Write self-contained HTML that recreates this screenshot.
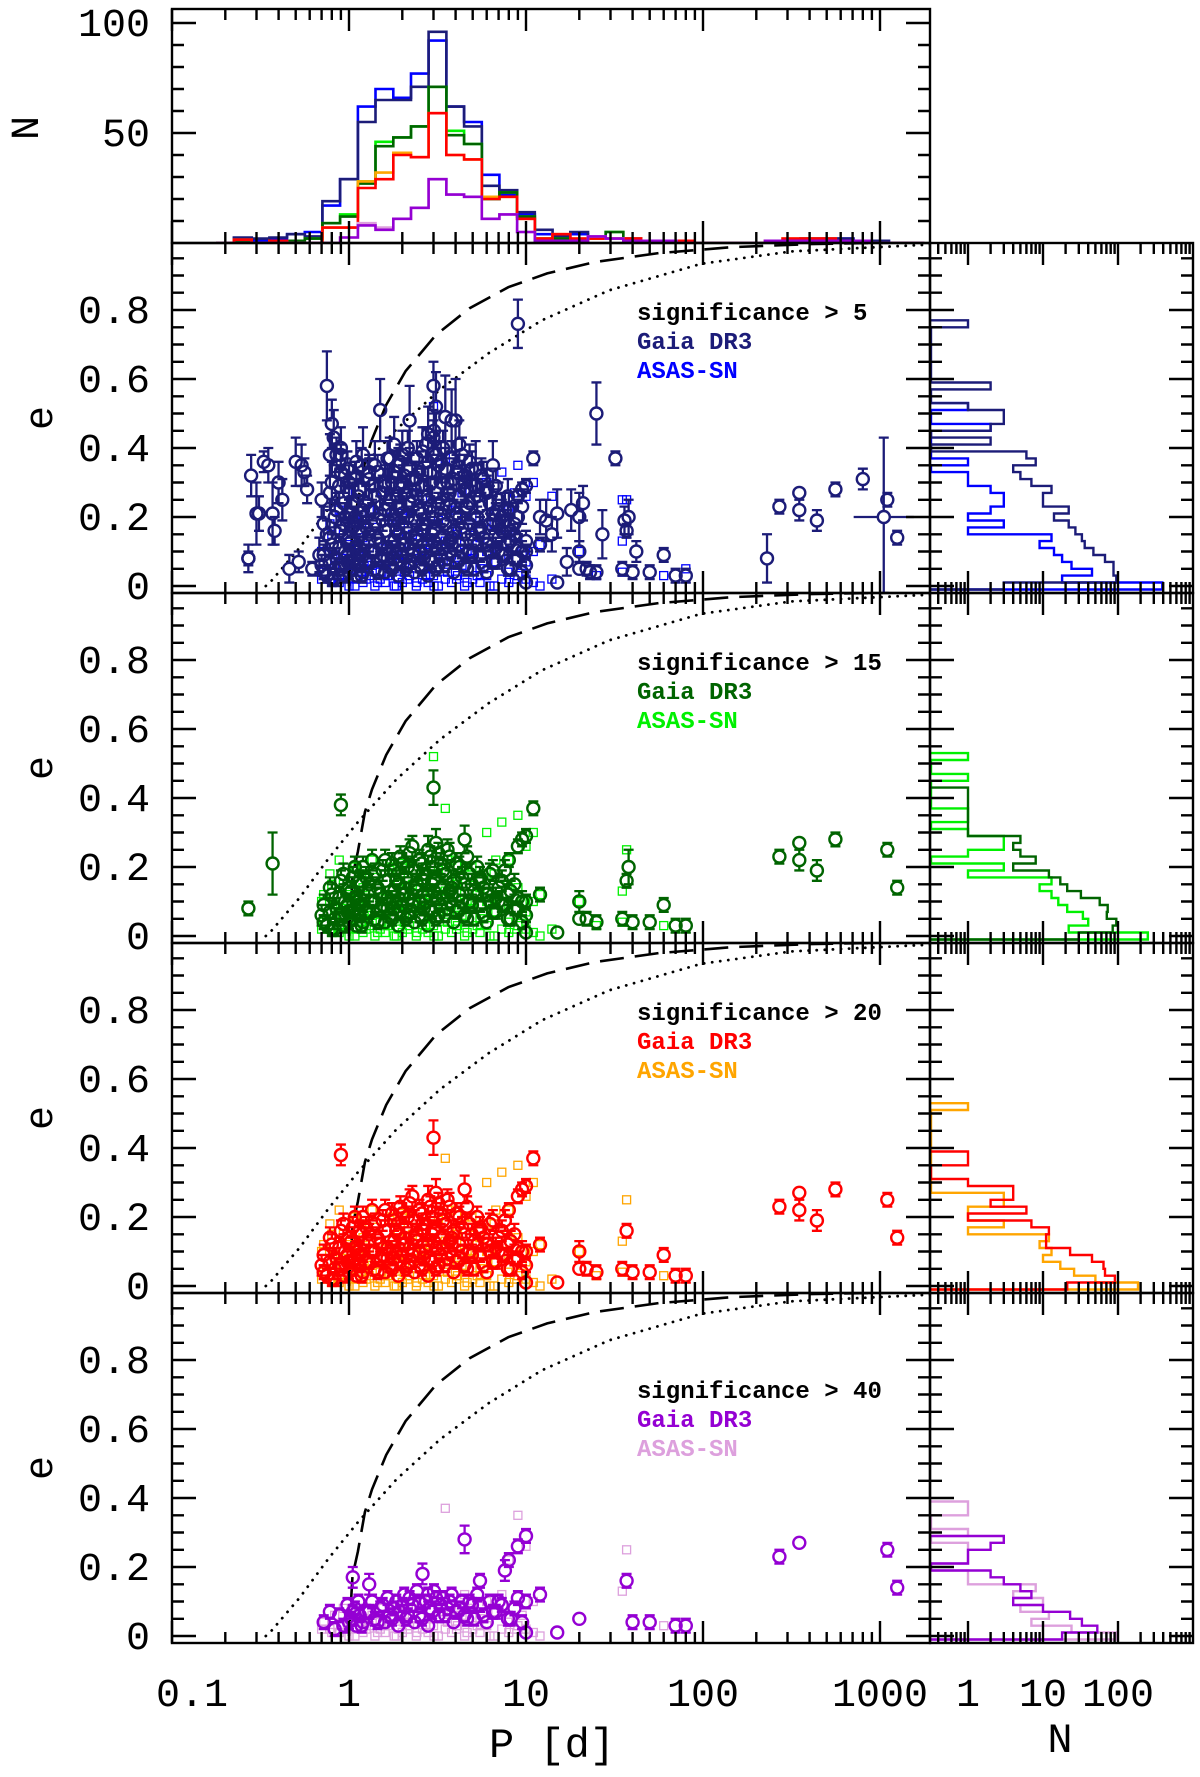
<!DOCTYPE html>
<html><head><meta charset="utf-8"><title>Period-eccentricity</title>
<style>
html,body{margin:0;padding:0;background:#fff;}
svg{display:block;}
text{font-family:"Liberation Mono","DejaVu Sans Mono",monospace;}
</style></head>
<body>
<svg id="chart" xmlns="http://www.w3.org/2000/svg" width="1200" height="1777" viewBox="0 0 1200 1777">
<rect x="0" y="0" width="1200" height="1777" fill="#fff"/>
</svg>
<script>
// ---------- DATA ----------
const panelThresholds = [5, 15, 20, 40];
const gaiaColors = ['#1c1c78', '#006400', '#ff0000', '#9400d3'];
const asasColors = ['#0000ff', '#00f000', '#ffa500', '#dda0dd'];
const legendTitles = ['significance > 5', 'significance > 15', 'significance > 20', 'significance > 40'];

const xTickLabels = ['0.1', '1', '10', '100', '1000'];
const xTickValues = [0.1, 1, 10, 100, 1000];
const eTickValues = [0, 0.2, 0.4, 0.6, 0.8];
const eTickLabels = ['0', '0.2', '0.4', '0.6', '0.8'];
const nTopTickValues = [50, 100];
const nTopTickLabels = ['50', '100'];
const nRightTickValues = [1, 10, 100];
const nRightTickLabels = ['1', '10', '100'];

const topBinLogP = [-0.7,-0.6,-0.5,-0.4,-0.3,-0.2,-0.1,0.0,0.1,0.2,0.3,0.4,0.5,0.6,0.7,0.8,0.9,1.0,1.1,1.2,1.3,1.4,1.5,1.6,1.7,1.8,1.9,2.0,2.1,2.2,2.3,2.4,2.5,2.6,2.7,2.8,2.9,3.0,3.1,3.2];
const topNavy   = [0,2.5,2,2.5,4,3,19,29,55,65,65,71,96,62,53,26,24,14,6,3,5,2,2,2,1,1,1,0,0,0,0,1,1,2,2,2,1,1,0,0];
const topBlue   = [0,2,1,2,4,5,17,29,62,70,66,77,92,62,55,31,22,13,4,3,4,2,2,2,1,1,1,0,0,0,0,1,1,2,2,2,1,1,0,0];
const topDGreen = [0,1,0,1,1,2,9,12,27,44,48,53,71,49,45,20,23,12,2,2,1,2,5,1,1,1,1,0,0,0,0,1,1,1,1,1,1,0,0,0];
const topLGreen = [0,1,0,1,1,2,9,13,28,46,48,53,71,51,45,20,23,12,2,2,1,2,5,1,1,1,1,0,0,0,0,1,1,1,1,1,1,0,0,0];
const topRed    = [0,1.5,0,1,0,0,7,7,25,29,40,39,59,40,38,20,21,11,2,4,2,2,2,2,1,1,1,0,0,0,0,1,2,2,2,1,1,0,0,0];
const topOrange = [0,1.5,0,1,0,0,7,7,28,32,41,39,59,40,38,21,21,11,2,4,2,2,2,2,1,1,1,0,0,0,0,1,2,2,2,1,1,0,0,0];
const topPurple = [0,0,0,0,0,0,0,2.5,8,6,11,16,29,22,21,11,13,5,1,1,1,3,2,1,1,1,0,0,0,0,0,1,1,1,1,1,1,0,0,0];
const topViolet = [0,0,0,0,0,0,0,2.5,9,7,11,16,29,22,21,11,13,5,1,1,1,3,2,1,1,1,0,0,0,0,0,1,1,1,1,1,1,0,0,0];

const rightGaia = [
  [3,95,87,87,67,47,36,33,27,22,14,22,10,10,13,7,5,4,8,6,0,2,0,2,3,3,1,0,0,2,0,0,0,0,0,0,0,0,1],
  [30,85,95,71,73,57,32,21,17,12,4,8,5,4,5,1,1,1,1,1,1,1],
  [21,91,67,64,45,23,11,11,12,7,1,6,2,4,4,1,0,0,1,1],
  [18,53,33,23,10,4,7,5,3,2,0,1,1,2,3]
];
const rightAsas = [
  [390,18,45,24,18,14,9,13,1,3,1,2,3,3,2,1,1,0,1,0,0,0,0,2,0,0,1],
  [250,22,40,34,21,16,13,9,13,1,3,0,1,3,3,1,0,1,1,0,0,0,0,1,0,0,1],
  [185,50,26,17,10,13,9,12,1,3,1,1,3,3,0,0,0,0,0,0,0,0,0,0,0,0,1],
  [95,24,7,12,5,10,4,8,1,1,0,1,1,1,0,1,0,0,1,1]
];

const dashLogP = [0,0.02,0.05,0.09,0.13,0.21,0.32,0.49,0.68,0.9,1.12,1.39,1.75,2.16,2.6,3.3];
const dashE    = [0,0.174,0.245,0.359,0.425,0.525,0.623,0.727,0.805,0.866,0.906,0.939,0.965,0.982,0.991,0.997];
const dotLogP  = [-0.47,-0.44,-0.28,-0.115,0.05,0.27,0.515,0.79,1.09,1.47,1.99,2.5,3.3];
const dotE     = [0,0.014,0.11,0.225,0.33,0.455,0.57,0.675,0.77,0.857,0.934,0.97,0.99];

// Gaia DR3 orbits: [P (d), e, sigma_e, significance, xerr(dex, optional)]
const gaiaRows = [
 [0.27,0.08,0.04,8],[0.28,0.32,0.06,7],[0.3,0.21,0.09,6],[0.31,0.21,0.05,9],[0.33,0.36,0.03,8],[0.35,0.35,0.05,7],
 [0.38,0.16,0.04,9],[0.4,0.3,0.06,7],[0.42,0.25,0.06,6],[0.46,0.05,0.04,8],[0.5,0.36,0.07,6],[0.52,0.07,0.03,7],
 [0.54,0.35,0.06,9],[0.56,0.33,0.04,8],[0.58,0.28,0.04,9],[0.62,0.05,0.02,10],[0.68,0.09,0.05,8],[0.75,0.58,0.1,6],
 [0.78,0.38,0.06,8],[0.8,0.47,0.07,7],[0.82,0.43,0.08,7],[0.85,0.38,0.05,9],[0.9,0.4,0.06,10],[0.95,0.32,0.05,11],
 [1.0,0.27,0.04,8],[1.1,0.36,0.06,7],[1.2,0.38,0.08,6],[1.3,0.33,0.05,9],[1.4,0.35,0.07,8],[1.5,0.51,0.09,7],
 [1.6,0.3,0.05,9],[1.7,0.37,0.06,10],[1.8,0.41,0.08,6],[1.9,0.35,0.05,8],[2.0,0.38,0.07,9],[2.2,0.48,0.1,6],
 [2.4,0.31,0.05,12],[2.6,0.39,0.07,7],[2.8,0.44,0.08,8],[3.0,0.58,0.07,9],[3.1,0.52,0.1,6],[3.3,0.36,0.06,9],
 [3.5,0.49,0.12,6],[3.8,0.48,0.09,7],[4.0,0.48,0.12,5.5],[4.2,0.41,0.07,8],[4.5,0.32,0.06,9],[4.8,0.36,0.05,11],
 [5.2,0.34,0.08,7],[5.6,0.32,0.05,9],[6.0,0.28,0.06,8],[6.5,0.35,0.07,8],[7.0,0.25,0.05,10],[8.0,0.22,0.05,11],
 [9.0,0.76,0.07,6],[12,0.2,0.05,9],[13,0.19,0.06,8],[14,0.15,0.05,9],[15,0.21,0.07,8],
 [17,0.07,0.04,9],[18,0.22,0.06,8],[20,0.2,0.07,9],[21,0.24,0.05,7],[23,0.04,0.02,12],[25,0.5,0.09,6],[27,0.15,0.07,7],
 [32,0.37,0.02,12],[36,0.19,0.04,9],[42,0.1,0.03,12],[230,0.08,0.07,6],[800,0.31,0.03,9],[1050,0.2,0.23,6,0.17],
 [0.27,0.08,0.02,20],[0.37,0.21,0.09,18],[0.9,0.38,0.03,25],[3.0,0.43,0.05,22],[9.5,0.28,0.02,33],[11,0.37,0.02,30],
 [270,0.23,0.02,60],[350,0.27,0.015,60],[350,0.22,0.03,30],[440,0.19,0.03,25],[560,0.28,0.02,30],
 [1100,0.25,0.02,100],[1250,0.14,0.02,100],
 [20,0.1,0.03,25],[22,0.05,0.02,30],[25,0.04,0.02,25],[35,0.05,0.02,28],[37,0.16,0.02,45],[38,0.2,0.05,18],
 [40,0.04,0.02,45],[50,0.04,0.02,45],[60,0.09,0.02,30],[70,0.03,0.02,45],[80,0.03,0.02,45],[15,0.01,0.01,45],
 [20,0.05,0.01,45],[10,0.01,0.01,45],[12,0.12,0.02,42],[8,0.22,0.02,45],[9,0.26,0.02,45],[10,0.29,0.02,50],
 [4.5,0.28,0.04,45],[1.05,0.17,0.03,45],[1.3,0.15,0.03,45],[2.6,0.18,0.03,45],
 [0.7,0.25,0.05,8],[0.7,0.06,0.03,25],[0.75,0.15,0.04,8],[0.75,0.03,0.02,25],[0.8,0.3,0.06,8],[0.8,0.12,0.03,25],[0.8,0.02,0.02,25],
 [0.85,0.22,0.05,8],[0.85,0.08,0.03,25],[0.9,0.33,0.06,8],[0.9,0.16,0.03,25],[0.9,0.05,0.02,25],[0.95,0.2,0.04,8],[0.95,0.1,0.02,25],
 [1.0,0.3,0.05,8],[1.0,0.14,0.03,25],[1.0,0.04,0.02,45],[1.05,0.24,0.05,8],[1.05,0.07,0.02,45],
 [1.1,0.19,0.04,8],[1.1,0.11,0.02,25],[1.1,0.03,0.01,45],[1.15,0.28,0.05,8],[1.15,0.16,0.03,25],[1.15,0.06,0.02,45],
 [1.2,0.22,0.04,8],[1.2,0.2,0.03,25],[1.2,0.09,0.02,25],[1.2,0.04,0.01,45],[1.3,0.31,0.06,8],[1.3,0.13,0.03,25],[1.3,0.07,0.02,45],
 [1.4,0.26,0.05,8],[1.4,0.18,0.03,25],[1.4,0.05,0.02,45],[1.4,0.1,0.02,25],[1.5,0.21,0.05,8],[1.5,0.12,0.02,25],[1.5,0.08,0.02,45],
 [1.6,0.29,0.05,8],[1.6,0.16,0.03,25],[1.6,0.04,0.01,45],[1.6,0.22,0.03,25],[1.7,0.25,0.05,8],[1.7,0.1,0.02,25],[1.7,0.06,0.02,45],
 [1.8,0.33,0.06,8],[1.8,0.19,0.03,25],[1.8,0.08,0.02,45],[1.8,0.13,0.02,25],[1.9,0.23,0.05,8],[1.9,0.15,0.03,25],[1.9,0.03,0.01,45],
 [2.0,0.3,0.05,8],[2.0,0.21,0.03,25],[2.0,0.09,0.02,45],[2.0,0.12,0.02,25],[2.1,0.27,0.05,8],[2.1,0.17,0.03,25],[2.1,0.05,0.02,45],
 [2.2,0.34,0.06,8],[2.2,0.24,0.04,25],[2.2,0.11,0.02,45],[2.2,0.07,0.02,25],[2.35,0.28,0.05,8],[2.35,0.19,0.03,25],[2.35,0.04,0.01,45],[2.35,0.14,0.02,25],
 [2.5,0.33,0.06,8],[2.5,0.22,0.03,25],[2.5,0.1,0.02,45],[2.5,0.06,0.02,45],[2.65,0.26,0.05,8],[2.65,0.16,0.03,25],[2.65,0.08,0.02,25],
 [2.8,0.36,0.07,8],[2.8,0.25,0.04,25],[2.8,0.12,0.02,45],[2.8,0.03,0.01,45],[2.95,0.3,0.06,8],[2.95,0.2,0.03,25],[2.95,0.07,0.02,45],[2.95,0.15,0.03,25],
 [3.1,0.38,0.07,8],[3.1,0.27,0.04,25],[3.1,0.11,0.02,45],[3.1,0.05,0.02,25],[3.3,0.3,0.05,8],[3.3,0.21,0.03,25],[3.3,0.09,0.02,45],[3.3,0.14,0.03,25],
 [3.5,0.34,0.06,8],[3.5,0.18,0.03,25],[3.5,0.06,0.02,45],[3.7,0.27,0.05,8],[3.7,0.23,0.04,25],[3.7,0.1,0.02,45],[3.7,0.13,0.02,25],
 [3.9,0.31,0.06,8],[3.9,0.16,0.03,25],[3.9,0.04,0.01,45],[4.2,0.26,0.05,8],[4.2,0.2,0.03,25],[4.2,0.08,0.02,45],[4.2,0.12,0.02,25],
 [4.5,0.3,0.05,8],[4.5,0.15,0.03,25],[4.5,0.06,0.02,45],[4.8,0.24,0.05,8],[4.8,0.18,0.03,25],[4.8,0.1,0.02,45],
 [5.1,0.29,0.06,8],[5.1,0.13,0.02,25],[5.1,0.05,0.02,45],[5.5,0.23,0.05,8],[5.5,0.17,0.03,25],[5.5,0.09,0.02,45],[5.5,0.16,0.02,45],
 [6.0,0.27,0.05,8],[6.0,0.12,0.02,25],[6.0,0.04,0.01,45],[6.5,0.21,0.05,8],[6.5,0.19,0.03,25],[6.5,0.07,0.02,45],
 [7.0,0.18,0.04,8],[7.0,0.14,0.03,25],[7.0,0.1,0.02,45],[7.6,0.22,0.05,8],[7.6,0.09,0.02,25],[7.6,0.19,0.03,45],
 [8.2,0.16,0.04,8],[8.2,0.13,0.03,25],[8.2,0.05,0.02,45],[9.0,0.2,0.05,8],[9.0,0.08,0.02,25],[9.0,0.11,0.02,45],
 [10,0.13,0.03,8],[10,0.06,0.02,25],[10,0.1,0.02,45],
 [0.72,0.18,0.05,8],[0.72,0.09,0.03,25],[0.72,0.04,0.02,45],[0.78,0.27,0.05,8],[0.78,0.14,0.03,25],[0.78,0.07,0.02,45],
 [0.83,0.2,0.05,8],[0.83,0.05,0.03,25],[0.83,0.02,0.02,45],[0.88,0.29,0.05,8],[0.88,0.11,0.03,25],[0.88,0.06,0.02,45],
 [0.93,0.24,0.05,8],[0.93,0.18,0.03,25],[0.93,0.03,0.02,45],[0.98,0.34,0.05,8],[0.98,0.07,0.03,25],[0.98,0.09,0.02,45],
 [1.03,0.21,0.05,8],[1.03,0.13,0.03,25],[1.03,0.05,0.02,45],[1.08,0.31,0.05,8],[1.08,0.2,0.03,25],[1.08,0.08,0.02,45],
 [1.13,0.26,0.05,8],[1.13,0.09,0.03,25],[1.13,0.1,0.02,45],[1.18,0.35,0.05,8],[1.18,0.15,0.03,25],[1.18,0.03,0.02,45],
 [1.25,0.24,0.05,8],[1.25,0.17,0.03,25],[1.25,0.07,0.02,45],[1.35,0.29,0.05,8],[1.35,0.22,0.03,25],[1.35,0.1,0.02,45],
 [1.45,0.33,0.05,8],[1.45,0.14,0.03,25],[1.45,0.04,0.02,45],[1.55,0.27,0.05,8],[1.55,0.19,0.03,25],[1.55,0.09,0.02,45],
 [1.65,0.37,0.05,8],[1.65,0.08,0.03,25],[1.65,0.11,0.02,45],[1.75,0.3,0.05,8],[1.75,0.21,0.03,25],[1.75,0.05,0.02,45],
 [1.85,0.26,0.05,8],[1.85,0.16,0.03,25],[1.85,0.1,0.02,45],[1.95,0.36,0.05,8],[1.95,0.23,0.03,25],[1.95,0.07,0.02,45],
 [2.05,0.32,0.05,8],[2.05,0.14,0.03,25],[2.05,0.12,0.02,45],[2.15,0.4,0.05,8],[2.15,0.2,0.03,25],[2.15,0.06,0.02,45],
 [2.28,0.31,0.05,8],[2.28,0.26,0.03,25],[2.28,0.09,0.02,45],[2.42,0.37,0.05,8],[2.42,0.15,0.03,25],[2.42,0.13,0.02,45],
 [2.58,0.29,0.05,8],[2.58,0.21,0.03,25],[2.58,0.05,0.02,45],[2.72,0.41,0.05,8],[2.72,0.18,0.03,25],[2.72,0.1,0.02,45],
 [2.88,0.33,0.05,8],[2.88,0.23,0.03,25],[2.88,0.08,0.02,45],[3.02,0.45,0.05,8],[3.02,0.16,0.03,25],[3.02,0.13,0.02,45],
 [3.2,0.35,0.05,8],[3.2,0.24,0.03,25],[3.2,0.06,0.02,45],[3.4,0.4,0.05,8],[3.4,0.19,0.03,25],[3.4,0.11,0.02,45],
 [3.6,0.3,0.05,8],[3.6,0.25,0.03,25],[3.6,0.08,0.02,45],[3.8,0.37,0.05,8],[3.8,0.14,0.03,25],[3.8,0.12,0.02,45],
 [4.05,0.33,0.05,8],[4.05,0.21,0.03,25],[4.05,0.07,0.02,45],[4.35,0.38,0.05,8],[4.35,0.17,0.03,25],[4.35,0.1,0.02,45],
 [4.65,0.28,0.05,8],[4.65,0.23,0.03,25],[4.65,0.05,0.02,45],[4.95,0.34,0.05,8],[4.95,0.15,0.03,25],[4.95,0.09,0.02,45],
 [5.3,0.26,0.05,8],[5.3,0.2,0.03,25],[5.3,0.12,0.02,45],[5.75,0.31,0.05,8],[5.75,0.14,0.03,25],[5.75,0.06,0.02,45],
 [6.25,0.24,0.05,8],[6.25,0.18,0.03,25],[6.25,0.1,0.02,45],[6.75,0.29,0.05,8],[6.75,0.11,0.03,25],[6.75,0.07,0.02,45],
 [7.3,0.2,0.05,8],[7.3,0.16,0.03,25],[7.3,0.09,0.02,45],[7.9,0.26,0.05,8],[7.9,0.12,0.03,25],[7.9,0.05,0.02,45],
 [8.6,0.18,0.05,8],[8.6,0.15,0.03,25],[8.6,0.08,0.02,45],[9.5,0.23,0.05,8],[9.5,0.1,0.03,25],[9.5,0.04,0.02,45]
];

// ASAS-SN orbits: [P (d), e, significance]
const asasRows = [
 [0.7,0.02,45],[0.7,0.1,25],[0.8,0.01,45],[0.8,0.15,25],[0.8,0.05,8],[0.9,0.03,45],[0.9,0.08,25],[0.9,0.2,8],
 [1.0,0.0,45],[1.0,0.12,25],[1.0,0.06,45],[1.1,0.02,45],[1.1,0.09,25],[1.1,0.18,8],[1.2,0.01,45],[1.2,0.05,45],[1.2,0.14,25],
 [1.3,0.03,45],[1.3,0.11,25],[1.3,0.22,8],[1.4,0.0,45],[1.4,0.07,45],[1.4,0.17,25],[1.5,0.02,45],[1.5,0.1,25],[1.5,0.04,45],
 [1.6,0.01,45],[1.6,0.13,25],[1.6,0.06,45],[1.7,0.03,45],[1.7,0.08,45],[1.7,0.19,25],[1.8,0.0,45],[1.8,0.11,25],[1.8,0.05,45],
 [1.9,0.02,45],[1.9,0.15,25],[1.9,0.07,45],[2.0,0.01,45],[2.0,0.09,45],[2.0,0.21,25],[2.2,0.03,45],[2.2,0.12,25],[2.2,0.06,45],
 [2.4,0.0,45],[2.4,0.17,25],[2.4,0.08,45],[2.6,0.02,45],[2.6,0.1,45],[2.6,0.25,8],[2.8,0.01,45],[2.8,0.14,25],[2.8,0.05,45],
 [3.0,0.03,45],[3.0,0.52,18],[3.0,0.11,45],[3.2,0.0,45],[3.2,0.19,25],[3.2,0.07,45],[3.5,0.02,45],[3.5,0.37,45],[3.5,0.13,25],
 [3.8,0.01,45],[3.8,0.09,45],[3.8,0.22,25],[4.1,0.03,45],[4.1,0.16,25],[4.1,0.06,45],[4.5,0.0,45],[4.5,0.12,45],[4.5,0.2,25],
 [5.0,0.02,45],[5.0,0.08,45],[5.0,0.17,25],[5.5,0.01,45],[5.5,0.14,25],[5.5,0.05,45],[6.0,0.03,45],[6.0,0.1,45],[6.0,0.3,25],
 [6.6,0.0,45],[6.6,0.18,25],[6.6,0.07,45],[7.3,0.02,45],[7.3,0.12,45],[7.3,0.33,25],[8.0,0.01,45],[8.0,0.09,25],[8.0,0.22,45],
 [9.0,0.03,45],[9.0,0.35,45],[9.0,0.14,25],[10,0.02,45],[10,0.26,45],[10,0.07,25],[11,0.01,45],[11,0.3,25],[11,0.1,45],
 [12,0.0,45],[12,0.12,25],[14,0.26,8],[14,0.02,25],[20,0.1,25],[25,0.03,25],[35,0.25,8],[35,0.13,45],[35,0.04,25],
 [37,0.25,45],[60,0.03,45],[80,0.05,8],
 [0.72,0.04,45],[0.72,0.12,25],[0.78,0.02,45],[0.78,0.18,25],[0.83,0.06,45],[0.83,0.09,25],[0.88,0.01,45],[0.88,0.22,25],
 [0.93,0.08,45],[0.93,0.15,25],[0.98,0.03,45],[0.98,0.27,8],[1.03,0.05,45],[1.03,0.1,25],[1.08,0.0,45],[1.08,0.2,25],
 [1.13,0.07,45],[1.13,0.12,25],[1.18,0.04,45],[1.18,0.18,25],[1.25,0.02,45],[1.25,0.09,25],[1.35,0.06,45],[1.35,0.22,25],
 [1.45,0.01,45],[1.45,0.15,25],[1.55,0.08,45],[1.55,0.27,8],[1.65,0.03,45],[1.65,0.1,25],[1.75,0.05,45],[1.75,0.2,25],
 [1.85,0.0,45],[1.85,0.12,25],[1.95,0.07,45],[1.95,0.18,25],[2.05,0.04,45],[2.05,0.09,25],[2.15,0.02,45],[2.15,0.22,25],
 [2.28,0.06,45],[2.28,0.15,25],[2.42,0.01,45],[2.42,0.27,8],[2.58,0.08,45],[2.58,0.1,25],[2.72,0.03,45],[2.72,0.2,25],
 [2.88,0.05,45],[2.88,0.12,25],[3.02,0.0,45],[3.02,0.18,25],[3.4,0.07,45],[3.4,0.09,25],[3.6,0.04,45],[3.6,0.22,25],
 [4.05,0.02,45],[4.05,0.15,25],[4.35,0.06,45],[4.35,0.27,8],[4.65,0.01,45],[4.65,0.1,25],[4.95,0.08,45],[4.95,0.2,25],
 [5.3,0.03,45],[5.3,0.12,25],[5.75,0.05,45],[5.75,0.18,25],[6.25,0.0,45],[6.25,0.09,25],[6.75,0.07,45],[6.75,0.22,25],
 [7.9,0.04,45],[7.9,0.15,25],[8.6,0.02,45],[8.6,0.27,8],[9.5,0.06,45],[9.5,0.1,25]
];

// ---------- GEOMETRY ----------
const svg = document.getElementById('chart');
const NS = 'http://www.w3.org/2000/svg';
const XL = 172, XR = 930, XRR = 1193, DEC = 177;
const TOP0 = 243, PH = 350, ESC = 345;
function xLog(l) { return XL + (l + 1) * DEC; }
function xP(P) { return xLog(Math.log10(P)); }
function yE(k, e) { return TOP0 + PH * k + 343 - e * ESC; }
function yN(n) { return 243 - 2.2 * n; }
function xN(n) { return n > 0 ? Math.max(931, 968 + 75 * Math.log10(n)) : 931; }
function mk(tag, attrs, parent) {
  const el = document.createElementNS(NS, tag);
  for (const a in attrs) el.setAttribute(a, attrs[a]);
  (parent || svg).appendChild(el);
  return el;
}

const defs = mk('defs', {});


for (let k = 0; k < 4; k++) {
  const cp = mk('clipPath', { id: 'clip' + k }, defs);
  
  
  mk('rect', { x: XL, y: TOP0 + PH * k, width: XR - XL, height: PH }, cp);
  const cpr = mk('clipPath', { id: 'clipr' + k }, defs);
  
  
  mk('rect', { x: XR, y: TOP0 + PH * k, width: XRR - XR, height: PH }, cpr);
}
const cpt = mk('clipPath', { id: 'cliptop' }, defs);


mk('rect', { x: XL, y: 9, width: XR - XL, height: 234 }, cpt);

// ---------- TOP HISTOGRAM ----------
const gTop = mk('g', { 'clip-path': 'url(#cliptop)' });


function topPath(counts) {
  let d = 'M' + xLog(topBinLogP[0] - 0.05) + ' ' + yN(0);
  for (let i = 0; i < counts.length; i++) {
    const y = yN(counts[i]);
    d += ' L' + xLog(topBinLogP[i] - 0.05).toFixed(1) + ' ' + y.toFixed(1) + ' L' + xLog(topBinLogP[i] + 0.05).toFixed(1) + ' ' + y.toFixed(1);
  }
  d += ' L' + xLog(topBinLogP[counts.length - 1] + 0.05) + ' ' + yN(0);
  return d;
}
const topSeries = [[topBlue, asasColors[0], 'hist-asas-sig5'], [topNavy, gaiaColors[0], 'hist-gaia-sig5'],
  [topLGreen, asasColors[1], 'hist-asas-sig15'], [topDGreen, gaiaColors[1], 'hist-gaia-sig15'],
  [topOrange, asasColors[2], 'hist-asas-sig20'], [topRed, gaiaColors[2], 'hist-gaia-sig20'],
  [topViolet, asasColors[3], 'hist-asas-sig40'], [topPurple, gaiaColors[3], 'hist-gaia-sig40']];
for (const s of topSeries) {
  const p = mk('path', { d: topPath(s[0]), fill: 'none', stroke: s[1], 'stroke-width': 2.6 }, gTop);
  
  
}

// ---------- MAIN PANELS ----------
for (let k = 0; k < 4; k++) {
  const thr = panelThresholds[k];
  const g = mk('g', { 'clip-path': 'url(#clip' + k + ')' });
  
  
  let dd = '';
  dashLogP.forEach((l, i) => { dd += (i ? ' L' : 'M') + xLog(l).toFixed(1) + ' ' + yE(k, dashE[i]).toFixed(1); });
  const dash = mk('path', { d: dd, fill: 'none', stroke: '#000', 'stroke-width': 2.6, 'stroke-dasharray': '24 11' }, g);
  
  
  let dt = '';
  dotLogP.forEach((l, i) => { dt += (i ? ' L' : 'M') + xLog(l).toFixed(1) + ' ' + yE(k, dotE[i]).toFixed(1); });
  const dot = mk('path', { d: dt, fill: 'none', stroke: '#000', 'stroke-width': 2.8, 'stroke-dasharray': '0.1 8', 'stroke-linecap': 'round' }, g);
  
  
  for (const r of asasRows) {
    if (r[2] <= thr) continue;
    const sq = mk('rect', { x: (xP(r[0]) - 4).toFixed(1), y: (yE(k, r[1]) - 4).toFixed(1), width: 8, height: 8, fill: 'none', stroke: asasColors[k], 'stroke-width': 1.3 }, g);
    
    
  }
  for (const r of gaiaRows) {
    if (r[3] <= thr) continue;
    const x = xP(r[0]), y = yE(k, r[1]);
    const yl = yE(k, Math.max(r[1] - r[2], -0.02)), yh = yE(k, r[1] + r[2]);
    let d = '';
    if (yl - y > 6) d += 'M' + x + ' ' + (y + 6) + ' V' + yl + ' M' + (x - 5) + ' ' + yl + ' H' + (x + 5);
    if (y - yh > 6) d += ' M' + x + ' ' + (y - 6) + ' V' + yh + ' M' + (x - 5) + ' ' + yh + ' H' + (x + 5);
    if (r[4]) {
      const xa = xLog(Math.log10(r[0]) - r[4]), xb = xLog(Math.log10(r[0]) + r[4]);
      d += ' M' + xa + ' ' + y + ' H' + (x - 6) + ' M' + (x + 6) + ' ' + y + ' H' + xb;
    }
    if (d) {
      const eb = mk('path', { d: d, fill: 'none', stroke: gaiaColors[k], 'stroke-width': 2.3 }, g);
      
      
    }
    const c = mk('circle', { cx: x.toFixed(1), cy: y.toFixed(1), r: 6, fill: 'none', stroke: gaiaColors[k], 'stroke-width': 2.4 }, g);
    
    
  }
  const top = TOP0 + PH * k;
  const off = k === 3 ? 97 : 69;
  const t1 = mk('text', { x: 637, y: top + off + 8, 'font-size': 24, 'font-weight': 'bold', fill: '#000' });
  t1.textContent = legendTitles[k];
  
  
  const t2 = mk('text', { x: 637, y: top + off + 37, 'font-size': 24, 'font-weight': 'bold', fill: gaiaColors[k] });
  t2.textContent = 'Gaia DR3';
  
  
  const t3 = mk('text', { x: 637, y: top + off + 66, 'font-size': 24, 'font-weight': 'bold', fill: asasColors[k] });
  t3.textContent = 'ASAS-SN';
  
  

  const gr = mk('g', { 'clip-path': 'url(#clipr' + k + ')' });
  
  
  const pairs = [[rightAsas[k], asasColors[k], 'hist-asas'], [rightGaia[k], gaiaColors[k], 'hist-gaia']];
  for (const pr of pairs) {
    const cnt = pr[0];
    let d = 'M931 ' + yE(k, -0.01).toFixed(1);
    for (let i = 0; i < cnt.length; i++) {
      const x = xN(cnt[i]).toFixed(1);
      d += ' L' + x + ' ' + yE(k, i * 0.02 - 0.01).toFixed(1) + ' L' + x + ' ' + yE(k, i * 0.02 + 0.01).toFixed(1);
    }
    d += ' L931 ' + yE(k, cnt.length * 0.02 - 0.01).toFixed(1);
    const hp = mk('path', { d: d, fill: 'none', stroke: pr[1], 'stroke-width': 2.4 }, gr);
    
    
  }
}

// ---------- AXES / FRAMES / TICKS ----------
const gAx = mk('g', { stroke: '#000', 'stroke-width': 2.4, fill: 'none' });


let axd = '';
function tk(x1, y1, x2, y2) { axd += 'M' + x1.toFixed(1) + ' ' + y1.toFixed(1) + ' L' + x2.toFixed(1) + ' ' + y2.toFixed(1) + ' '; }
function pTicks(yTop, yBot) {
  for (let d = -1; d <= 3; d++) for (let m = 1; m <= 9; m++) {
    const x = xP(m * Math.pow(10, d));
    if (x > XR - 1) continue;
    const len = m === 1 ? 22 : 11;
    tk(x, yBot, x, yBot - len);
    tk(x, yTop, x, yTop + len);
  }
}
const fr = mk('rect', { x: XL, y: 9, width: XR - XL, height: 234 }, gAx);


pTicks(9, 243);
for (let n = 10; n <= 100; n += 10) {
  const y = yN(n), len = n % 50 === 0 ? 24 : 12;
  tk(XL, y, XL + len, y);
  tk(XR, y, XR - len, y);
}
for (let k = 0; k < 4; k++) {
  const top = TOP0 + PH * k, bot = top + PH;
  const f1 = mk('rect', { x: XL, y: top, width: XR - XL, height: PH }, gAx);
  
  
  const f2 = mk('rect', { x: XR, y: top, width: XRR - XR, height: PH }, gAx);
  
  
  pTicks(top, bot);
  for (let i = 0; i <= 19; i++) {
    const e = i * 0.05, y = yE(k, e);
    if (y < top + 2) continue;
    const len = i % 4 === 0 ? 24 : 12;
    tk(XL, y, XL + len, y);
    tk(XR, y, XR - len, y);
    tk(XR, y, XR + len, y);
    tk(XRR, y, XRR - len, y);
  }
  for (let d = -1; d <= 2; d++) for (let m = 1; m <= 9; m++) {
    const x = xN(m * Math.pow(10, d));
    if (x <= 932 || x >= XRR - 1) continue;
    const len = m === 1 ? 22 : 11;
    tk(x, bot, x, bot - len);
    tk(x, top, x, top + len);
  }
}
const tp = mk('path', { d: axd }, gAx);



// ---------- LABELS ----------
for (let k = 0; k < 4; k++) {
  for (let i = 0; i < eTickValues.length; i++) {
    const t = mk('text', { x: 150, y: yE(k, eTickValues[i]) + 13, 'font-size': 40, 'text-anchor': 'end', fill: '#000' });
    t.textContent = eTickLabels[i];
    
    
  }
  const yl = mk('text', { x: 0, y: 0, 'font-size': 40, 'text-anchor': 'middle', fill: '#000', transform: 'translate(52,' + (TOP0 + PH * k + 175) + ') rotate(-90)' });
  yl.textContent = 'e';
  
  
}
for (let i = 0; i < nTopTickValues.length; i++) {
  const t = mk('text', { x: 150, y: yN(nTopTickValues[i]) + 13, 'font-size': 40, 'text-anchor': 'end', fill: '#000' });
  t.textContent = nTopTickLabels[i];
  
  
}
const nl = mk('text', { x: 0, y: 0, 'font-size': 40, 'text-anchor': 'middle', fill: '#000', transform: 'translate(38,128) rotate(-90)' });
nl.textContent = 'N';


for (let i = 0; i < xTickValues.length; i++) {
  const t = mk('text', { x: xP(xTickValues[i]) + (i === 0 ? 20 : 0), y: 1706, 'font-size': 40, 'text-anchor': 'middle', fill: '#000' });
  t.textContent = xTickLabels[i];
  
  
}
for (let i = 0; i < nRightTickValues.length; i++) {
  const t = mk('text', { x: xN(nRightTickValues[i]), y: 1706, 'font-size': 40, 'text-anchor': 'middle', fill: '#000' });
  t.textContent = nRightTickLabels[i];
  
  
}
const xt = mk('text', { x: 552, y: 1757, 'font-size': 42, 'text-anchor': 'middle', fill: '#000' });
xt.textContent = 'P [d]';


const nt = mk('text', { x: 1060, y: 1752, 'font-size': 42, 'text-anchor': 'middle', fill: '#000' });
nt.textContent = 'N';


</script>
</body></html>
